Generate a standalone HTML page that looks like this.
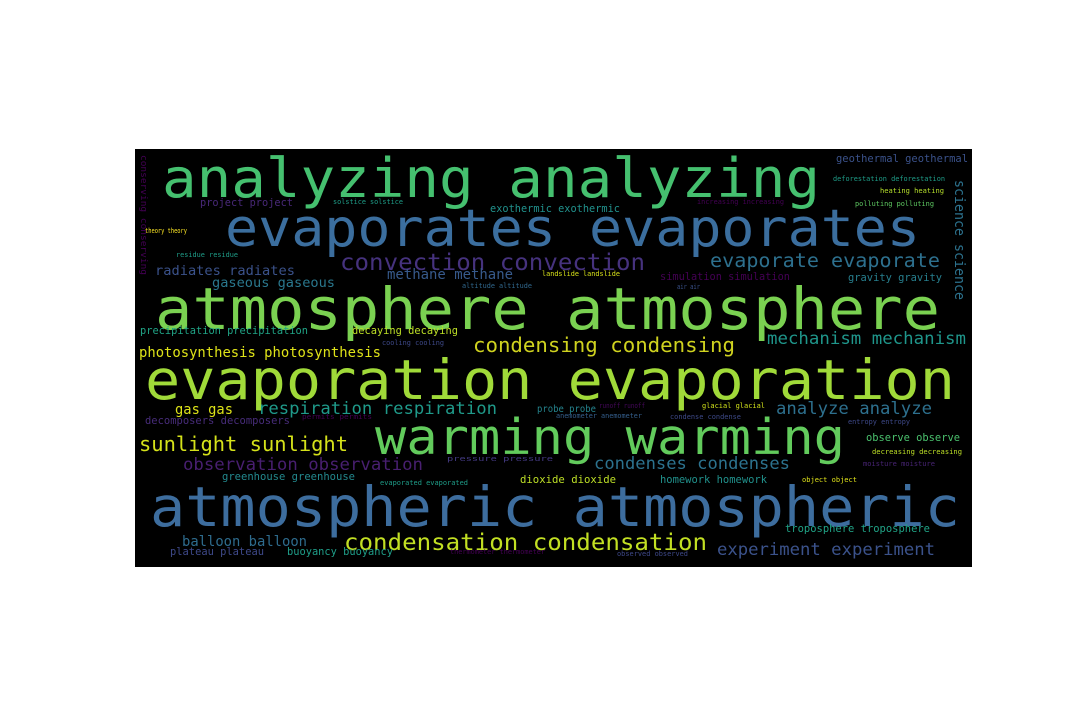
<!DOCTYPE html>
<html><head><meta charset="utf-8"><style>
html,body{margin:0;padding:0;background:#fff;width:1080px;height:720px;overflow:hidden}
svg{position:absolute;left:0;top:0}
text{font-family:"DejaVu Sans Mono","Liberation Mono",monospace;}
</style></head><body>
<svg id="cloud" width="1080" height="720" viewBox="0 0 1080 720">
<rect x="135" y="149" width="837" height="418" fill="#000"/>
<g id="words"></g>
</svg>
<script>
const words=["analyzing analyzing","evaporates evaporates","convection convection","radiates radiates","gaseous gaseous","methane methane","evaporate evaporate","atmosphere atmosphere","project project","solstice solstice","exothermic exothermic","geothermal geothermal","deforestation deforestation","heating heating","polluting polluting","increasing increasing","theory theory","residue residue","landslide landslide","simulation simulation","gravity gravity","altitude altitude","air air","precipitation precipitation","decaying decaying","cooling cooling","photosynthesis photosynthesis","condensing condensing","mechanism mechanism","evaporation evaporation","gas gas","respiration respiration","probe probe","runoff runoff","glacial glacial","analyze analyze","decomposers decomposers","permits permits","anemometer anemometer","condense condense","entropy entropy","sunlight sunlight","warming warming","observe observe","decreasing decreasing","observation observation","condenses condenses","pressure pressure","moisture moisture","greenhouse greenhouse","evaporated evaporated","dioxide dioxide","homework homework","object object","atmospheric atmospheric","troposphere troposphere","balloon balloon","condensation condensation","experiment experiment","plateau plateau","buoyancy buoyancy","thermometer thermometer","observed observed","science science","conserving conserving"];
const sizes=[54,51.5,23,13.5,13.5,13.8,19.5,58,10.3,7,10.3,10.4,7,7,7,7,7,7,7,10.5,10.5,7,7,10.4,10.4,7,13.9,20.3,17.2,55,13.8,17.1,10,7,7,17.1,10.5,7,7,7,7,20,49,10.4,7,17.1,17,7,7,10.4,7,10.4,10.4,7,55,10.4,13.8,23.5,17.1,10.4,10.4,7,7,14,9];
const colors=["#45c06f","#3b6e9e","#46327e","#3b528b","#2a788e","#375a8c","#2d708e","#7ad151","#482878","#1f9e89","#21918c","#3b528b","#1f9e89","#b5de2b","#5ec962","#440154","#fde725","#1f9e89","#d8e219","#440154","#277f8e","#31688e","#3b528b","#20a486","#bddf26","#3e4989","#dfe318","#cfd21f","#1f968b","#a0da39","#dde318","#1f9a8a","#25848e","#46085c","#d2e21b","#2d708e","#472c7a","#440154","#355f8d","#3e4a89","#3e4989","#d5e21a","#62cb5c","#4ac16d","#bddf26","#481f70","#2c728e","#443a83","#482475","#23898e","#1f9e89","#bddf26","#21918c","#e0e31a","#3d6d9e","#20a386","#2e6c8e","#c2df23","#3b528b","#3e4989","#1f9e89","#440154","#3e4989","#2c728e","#440154"];
const xs=[162,225,340,155,212,387,710,155,200,333,490,836,833,880,855,697,145,176,542,660,848,462,677,140,352,382,139,473,767,145,175,258,537,599,702,776,145,302,556,670,848,139,375,866,872,183,594,447,863,222,380,520,660,802,150,785,182,344,717,170,287,450,617,955,141];
const ys=[197,246,270,275,287,279,267,329,206,204,212,162,181,193,206,204,233,257,276,280,281,288,289,334,334,345,357,352,344,399,414,414,412,408,408,414,424,419,418,419,424,451,454,441,454,470,469,461,466,480,485,483,483,482,526,532,546,550,555,555,555,554,556,180,155];
const widths=[658,695,305,140,123,126,230,785,93,70,130,132,112,64,79,87,42,62,78,130,94,70,23,168,106,62,242,262,199,810,58,239,59,46,63,156,145,70,86,71,62,209,470,94,90,240,196,106,72,133,88,96,107,55,810,145,125,363,218,94,106,95,71,120,120];
const g=document.getElementById('words');
const NS='http://www.w3.org/2000/svg';
for(let i=0;i<words.length;i++){
  const t=document.createElementNS(NS,'text');
  
  
  t.setAttribute('font-size',sizes[i]);
  t.setAttribute('fill',colors[i]);
  t.setAttribute('textLength',widths[i]);
  t.setAttribute('lengthAdjust','spacingAndGlyphs');
  if(i>=words.length-2){
    t.setAttribute('transform','translate('+xs[i]+','+ys[i]+') rotate(90)');
    t.setAttribute('x',0);t.setAttribute('y',0);
  }else{
    t.setAttribute('x',xs[i]);t.setAttribute('y',ys[i]);
  }
  t.textContent=words[i];
  g.appendChild(t);
}
</script>
</body></html>
